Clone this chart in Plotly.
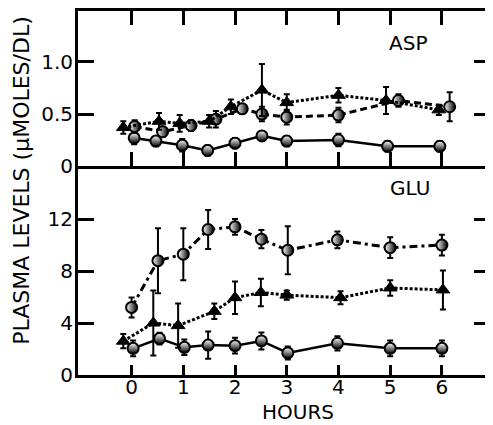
import plotly.graph_objects as go

# ---- data (hours, value, +/- error) ----
asp_tri_h = [-0.16, 0.53, 0.93, 1.5, 1.92, 2.52, 3.0, 4.0, 4.92, 5.94]
asp_tri_v = [0.37, 0.43, 0.41, 0.43, 0.57, 0.73, 0.61, 0.68, 0.63, 0.54]
asp_tri_e = [0.06, 0.08, 0.08, 0.06, 0.07, 0.25, 0.08, 0.07, 0.13, 0.05]

asp_dash_h = [0.06, 0.6, 1.15, 1.63, 2.14, 2.52, 3.0, 4.0, 5.16, 6.15]
asp_dash_v = [0.38, 0.33, 0.39, 0.45, 0.55, 0.50, 0.47, 0.49, 0.63, 0.57]
asp_dash_e = [0.06, 0.05, 0.05, 0.08, 0.04, 0.07, 0.07, 0.07, 0.06, 0.14]

asp_solid_h = [0.05, 0.47, 0.98, 1.47, 2.0, 2.52, 3.0, 4.0, 4.95, 5.96]
asp_solid_v = [0.27, 0.24, 0.20, 0.15, 0.22, 0.29, 0.24, 0.25, 0.19, 0.19]
asp_solid_e = [0.06, 0.05, 0.06, 0.05, 0.05, 0.04, 0.05, 0.06, 0.05, 0.05]

glu_dd_h = [0.0, 0.51, 1.0, 1.48, 2.0, 2.51, 3.02, 3.98, 5.0, 6.0]
glu_dd_v = [5.2, 8.8, 9.3, 11.2, 11.4, 10.45, 9.6, 10.4, 9.8, 10.0]
glu_dd_e = [0.77, 2.5, 2.0, 1.5, 0.6, 0.7, 1.85, 0.65, 0.8, 0.8]

glu_tri_h = [-0.16, 0.42, 0.9, 1.6, 2.0, 2.5, 3.0, 4.04, 5.0, 6.02]
glu_tri_v = [2.6, 4.0, 3.8, 4.9, 5.95, 6.35, 6.15, 5.95, 6.7, 6.55]
glu_tri_e = [0.55, 2.5, 1.7, 0.6, 1.25, 1.05, 0.35, 0.5, 0.6, 1.5]

glu_solid_h = [0.03, 0.54, 1.02, 1.48, 2.0, 2.51, 3.02, 3.98, 5.0, 6.0]
glu_solid_v = [2.05, 2.8, 2.13, 2.3, 2.26, 2.62, 1.7, 2.44, 2.05, 2.05]
glu_solid_e = [0.6, 0.45, 0.6, 1.05, 0.6, 0.65, 0.5, 0.55, 0.6, 0.6]

hour_ticks = [0, 1, 2, 3, 4, 5, 6]
asp_ticks = [0, 0.5, 1.0]
asp_ticktext = ["0", "0.5", "1.0"]
glu_ticks = [0, 4, 8, 12]
glu_ticktext = ["0", "4", "8", "12"]

FONT = "DejaVu Sans"
BLK = "black"

half_bottom = dict(symbol="circle", size=11, color="white",
                   gradient=dict(type="vertical", color=BLK),
                   line=dict(color=BLK, width=2))
half_right = dict(symbol="circle", size=11, color="white",
                  gradient=dict(type="horizontal", color=BLK),
                  line=dict(color=BLK, width=2))
tri = dict(symbol="triangle-up", size=12, color=BLK, line=dict(color=BLK, width=1))


def err(e):
    return dict(type="data", array=e, visible=True, color=BLK, thickness=2, width=3)


fig = go.Figure()

# upper panel (ASP)
fig.add_trace(go.Scatter(x=asp_solid_h, y=asp_solid_v, error_y=err(asp_solid_e),
                         mode="lines+markers", line=dict(color=BLK, width=2.5),
                         marker=half_bottom, xaxis="x2", yaxis="y2"))
fig.add_trace(go.Scatter(x=asp_dash_h, y=asp_dash_v, error_y=err(asp_dash_e),
                         mode="lines+markers", line=dict(color=BLK, width=3, dash="7px,4px"),
                         marker=half_right, xaxis="x2", yaxis="y2"))
fig.add_trace(go.Scatter(x=asp_tri_h, y=asp_tri_v, error_y=err(asp_tri_e),
                         mode="lines+markers", line=dict(color=BLK, width=3, dash="3px,2px"),
                         marker=tri, xaxis="x2", yaxis="y2"))

# lower panel (GLU)
fig.add_trace(go.Scatter(x=glu_solid_h, y=glu_solid_v, error_y=err(glu_solid_e),
                         mode="lines+markers", line=dict(color=BLK, width=2.5),
                         marker=half_bottom, xaxis="x", yaxis="y"))
fig.add_trace(go.Scatter(x=glu_dd_h, y=glu_dd_v, error_y=err(glu_dd_e),
                         mode="lines+markers", line=dict(color=BLK, width=3, dash="8px,4px,3px,4px"),
                         marker=half_right, xaxis="x", yaxis="y"))
fig.add_trace(go.Scatter(x=glu_tri_h, y=glu_tri_v, error_y=err(glu_tri_e),
                         mode="lines+markers", line=dict(color=BLK, width=3, dash="3px,2px"),
                         marker=tri, xaxis="x", yaxis="y"))

xr = [-1.036, 6.93]
split = 0.574

common_x = dict(range=xr, tickvals=hour_ticks, linecolor=BLK, linewidth=3,
                ticks="inside", tickcolor=BLK, tickwidth=3,
                showgrid=False, zeroline=False)
common_y = dict(showline=True, linecolor=BLK, linewidth=3, ticks="inside",
                tickcolor=BLK, tickwidth=3, ticklen=16, mirror="ticks",
                showgrid=False, zeroline=False, ticklabelstandoff=-2,
                tickfont=dict(family=FONT, size=20, color=BLK))

fig.update_layout(
    width=485, height=417,
    margin=dict(l=70, r=0, t=3, b=50),
    paper_bgcolor="white", plot_bgcolor="white",
    showlegend=False,
    font=dict(family=FONT, size=20, color=BLK),
    xaxis=dict(**common_x, anchor="y", ticklen=10, mirror=False, showline=True,
               ticklabelstandoff=-8,
               tickfont=dict(family=FONT, size=20, color=BLK)),
    xaxis2=dict(**common_x, anchor="y2", ticklen=14, mirror="ticks", showline=True,
                showticklabels=False, matches="x"),
    xaxis3=dict(**common_x, anchor="y", overlaying="x", side="top", ticklen=6,
                showline=False, showticklabels=False, matches="x"),
    yaxis=dict(**common_y, domain=[0, split], range=[0, 16.08],
               tickvals=glu_ticks, ticktext=glu_ticktext),
    yaxis2=dict(**common_y, domain=[split, 1], range=[0, 1.49],
                tickvals=asp_ticks, ticktext=asp_ticktext),
    annotations=[
        dict(text="ASP", xref="paper", yref="paper", x=0.852, y=0.913,
             xanchor="right", yanchor="middle", showarrow=False,
             font=dict(family=FONT, size=20, color=BLK)),
        dict(text="GLU", xref="paper", yref="paper", x=0.859, y=0.514,
             xanchor="right", yanchor="middle", showarrow=False,
             font=dict(family=FONT, size=20, color=BLK)),
        dict(text="HOURS", xref="paper", yref="paper", x=0.535, y=-0.102,
             xanchor="center", yanchor="middle", showarrow=False,
             font=dict(family=FONT, size=20, color=BLK)),
        dict(text="PLASMA LEVELS (\u00b5MOLES/DL)", xref="paper", yref="paper",
             x=-0.137, y=0.535, xanchor="center", yanchor="middle",
             textangle=-90, showarrow=False,
             font=dict(family=FONT, size=22, color=BLK)),
    ],
)

fig.write_html("out.html")
